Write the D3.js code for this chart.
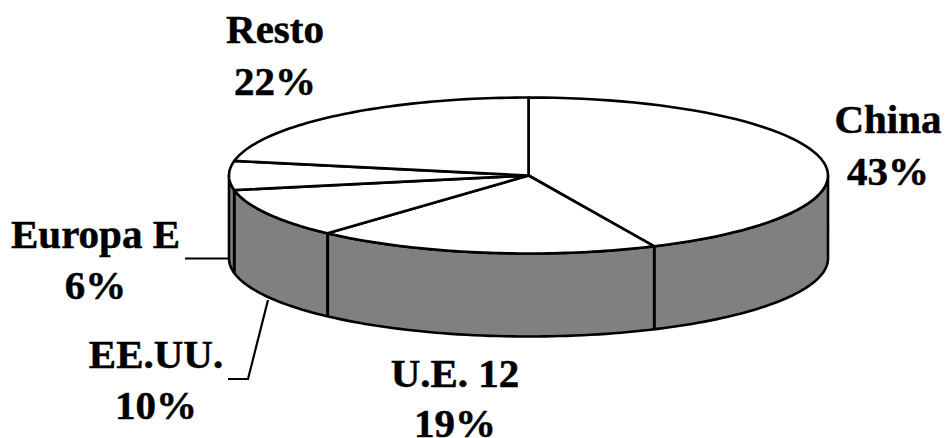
<!DOCTYPE html>
<html><head><meta charset="utf-8">
<script src="https://cdn.jsdelivr.net/npm/d3@7"></script>
<style>html,body{margin:0;padding:0;background:#fff;overflow:hidden}
svg{display:block}
text{font-family:"Liberation Serif",serif;font-weight:bold;font-size:41px;fill:#000;stroke:#000;stroke-width:0.5px;text-anchor:middle}</style>
</head><body><svg id="c" width="945" height="438"></svg>
<script>
const categories = ["China","U.E. 12","EE.UU.","Europa E","Resto"];
const shares = [43.1,18.6,10.3,6,22];
const labelText = ["43%","19%","10%","6%","22%"];

const W=945,H=438,cx=528.5,cy=175.5,rx=299.5,ry=78,depth=83;
const svg=d3.select("#c");
const pie=d3.pie().sort(null).value(d=>d)(shares);
const px=a=>cx+rx*Math.sin(a), py=a=>cy-ry*Math.cos(a);
const ink={stroke:"#000","stroke-width":2.6,"stroke-linejoin":"round"};
function sty(s,o){for(const k in o)s.attr(k,o[k]);return s;}

// side wall: visible front half of the rim
const sideStart=Math.PI/2, sideEnd=3*Math.PI/2;
const samples=d3.range(0,121).map(i=>sideStart+(sideEnd-sideStart)*i/120);
const wall=d3.line()(samples.map(a=>[px(a),py(a)]).concat(samples.slice().reverse().map(a=>[px(a),py(a)+depth])))+"Z";
sty(svg.append("path").attr("d",wall).attr("fill","#808080"),ink);

// top face slices
const sliceG=svg.append("g");
pie.forEach(p=>{
  const n=60;
  const pts=d3.range(0,n+1).map(i=>{const a=p.startAngle+(p.endAngle-p.startAngle)*i/n;return [px(a),py(a)];});
  const d=d3.line()([[cx,cy],...pts])+"Z";
  sty(sliceG.append("path").attr("d",d).attr("fill","#fff"),ink);
});

// slice seams on the wall
pie.map(p=>p.endAngle).filter(a=>a>sideStart&&a<sideEnd).forEach(a=>{
  sty(svg.append("line").attr("x1",px(a)).attr("x2",px(a)).attr("y1",py(a)).attr("y2",py(a)+depth),{stroke:"#000","stroke-width":3});
});

// leader lines
const leaders=[[[185,258.5],[229,258.5]],[[228,379],[248,379],[268,300]]];
leaders.forEach(l=>sty(svg.append("path").attr("d",d3.line()(l)).attr("fill","none"),{stroke:"#000","stroke-width":2.2}));

// labels
const labelPos=[[888,133,185],[455,387,437],[156,368,419],[95.5,248,299],[275,43,95]];
categories.forEach((c,i)=>{
  const [x,y1,y2]=labelPos[i];
  svg.append("text").attr("x",x).attr("y",y1).text(c);
  svg.append("text").attr("x",x).attr("y",y2).text(labelText[i]);
});
</script></body></html>
